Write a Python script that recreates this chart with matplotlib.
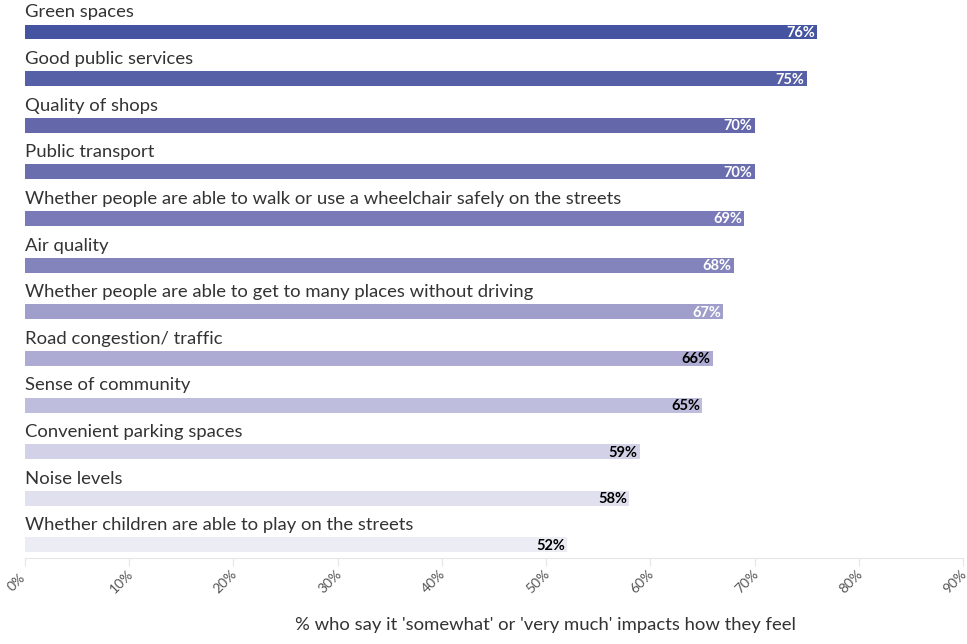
import matplotlib
matplotlib.use("Agg")
import matplotlib.pyplot as plt
import matplotlib.transforms as mtransforms

plt.rcParams['font.family'] = ['Lato', 'DejaVu Sans']

categories = [
    "Green spaces",
    "Good public services",
    "Quality of shops",
    "Public transport",
    "Whether people are able to walk or use a wheelchair safely on the streets",
    "Air quality",
    "Whether people are able to get to many places without driving",
    "Road congestion/ traffic",
    "Sense of community",
    "Convenient parking spaces",
    "Noise levels",
    "Whether children are able to play on the streets",
]
values = [76, 75, 70, 70, 69, 68, 67, 66, 65, 59, 58, 52]
bar_colors = ["#4554a0", "#5560a6", "#6468ab", "#6a6eae", "#7a7ab8", "#8484bd",
              "#a09fcc", "#adabd3", "#bfbddd", "#d2d1e7", "#e0e0ef", "#ececf5"]
label_colors = ["white"] * 7 + ["black"] * 5
ticks = [0, 10, 20, 30, 40, 50, 60, 70, 80, 90]

fig = plt.figure(figsize=(9.67, 6.44), dpi=100)
ax = fig.add_axes([25 / 967, 1 - 558 / 644, 938 / 967, 558 / 644])

ypos = list(range(len(categories)))
ax.barh(ypos, values, height=0.32, color=bar_colors)

for y, cat, v, lc in zip(ypos, categories, values, label_colors):
    ax.text(0, y - 0.42, cat, va='center', ha='left', fontsize=13.3, color='#333333')
    ax.text(v - 0.2, y + 0.02, f"{v}%", va='center', ha='right', fontsize=10.5,
            fontweight='bold', color=lc)

ax.set_xlim(0, 90)
ax.set_ylim(11.28, -0.687)
ax.set_yticks([])
ax.set_xticks(ticks)
ax.set_xticklabels([])
ax.tick_params(axis='x', length=6, color='#e6e6e6')

# rotated tick labels, nudged down-left of each tick
shift = mtransforms.ScaledTranslation(-8 / 100, -24 / 100, fig.dpi_scale_trans)
for t in ticks:
    ax.text(t, 0, f"{t}%", rotation=45, ha='center', va='center',
            fontsize=10, color='#555555',
            transform=ax.get_xaxis_transform() + shift, clip_on=False)

for s in ['top', 'right', 'left']:
    ax.spines[s].set_visible(False)
ax.spines['bottom'].set_color('#e6e6e6')

fig.text(545 / 967, 1 - 625 / 644, "% who say it 'somewhat' or 'very much' impacts how they feel",
         ha='center', va='center', fontsize=13.3, color='#333333')

fig.savefig("out.png", dpi=100)
